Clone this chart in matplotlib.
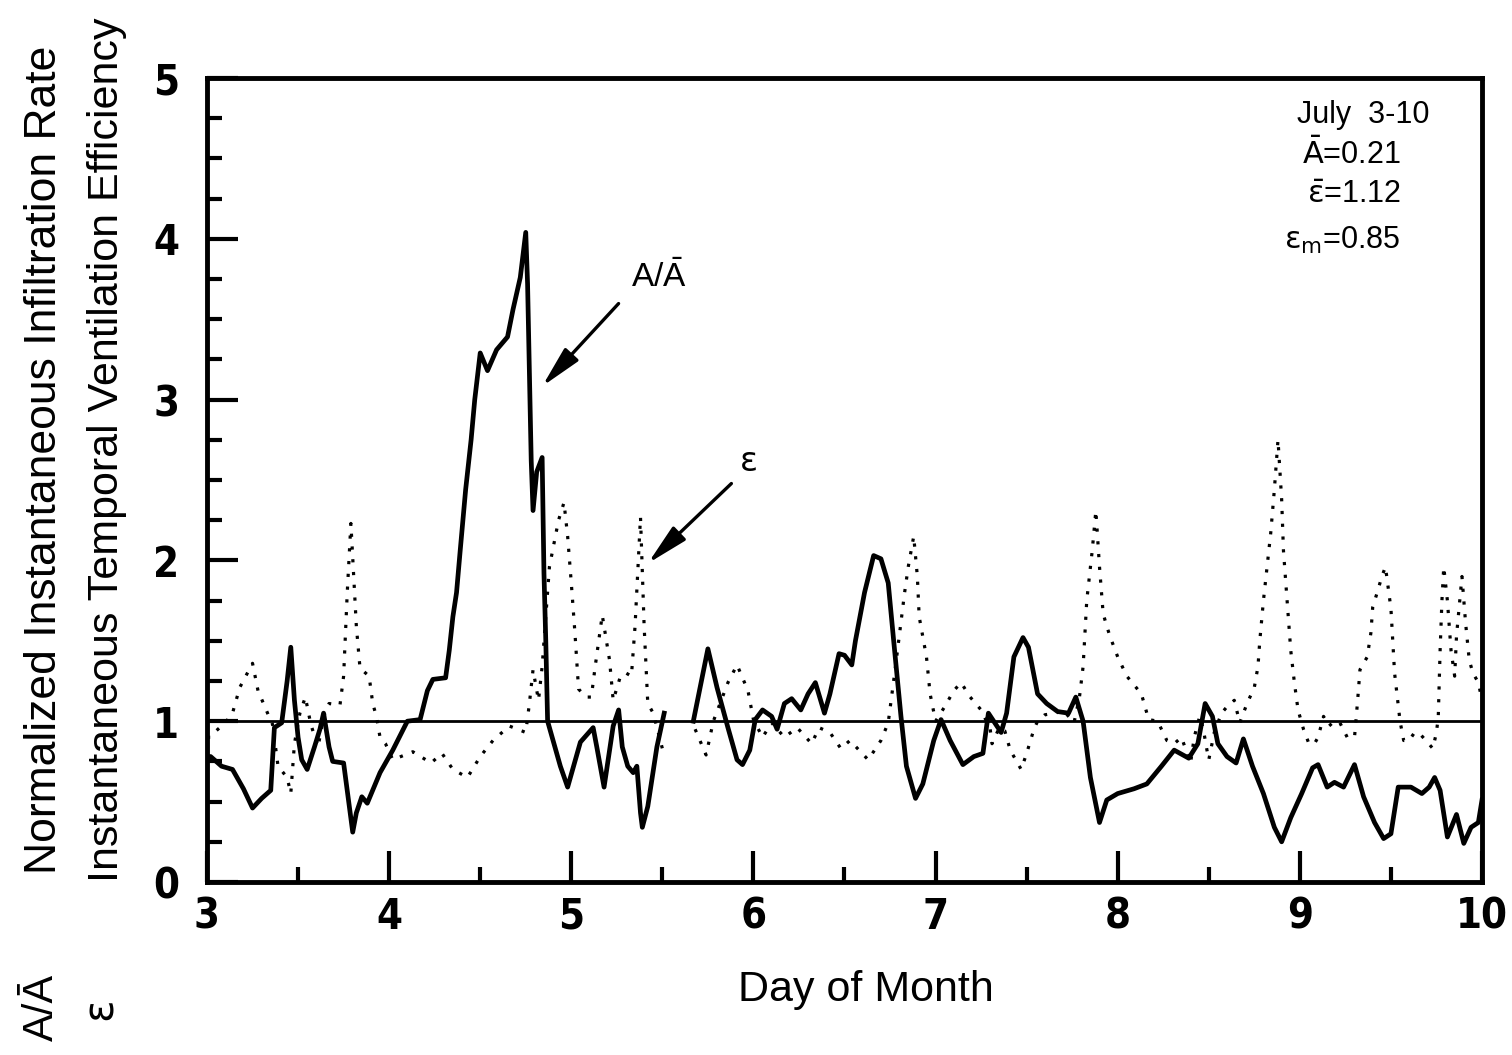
import numpy as np
import matplotlib
matplotlib.use("Agg")
import matplotlib.pyplot as plt

nan = np.nan

# A / A-bar (solid)
a_x = [3.00, 3.02, 3.08, 3.14, 3.20, 3.25, 3.30, 3.35, 3.37, 3.41, 3.44, 3.46, 3.48, 3.50, 3.52,
       3.55, 3.59, 3.62, 3.64, 3.67, 3.69, 3.75, 3.77, 3.80, 3.82, 3.85, 3.88, 3.95, 4.02, 4.10,
       4.17, 4.21, 4.24, 4.31, 4.33, 4.35, 4.37, 4.39, 4.42, 4.45, 4.47, 4.50, 4.54, 4.59, 4.65,
       4.68, 4.72, 4.75, 4.76, 4.77, 4.78, 4.79, 4.81, 4.84, 4.85, 4.86, 4.87, 4.94, 4.98, 5.05,
       5.12, 5.14, 5.18, 5.23, 5.26, 5.28, 5.31, 5.34, 5.36, 5.38, 5.39, 5.42, 5.47, 5.51, 5.59,
       5.67, 5.75, 5.80, 5.86, 5.91, 5.94, 5.98, 6.01, 6.05, 6.10, 6.13, 6.17, 6.21, 6.26, 6.30,
       6.34, 6.39, 6.42, 6.47, 6.50, 6.54, 6.56, 6.61, 6.66, 6.70, 6.74, 6.77, 6.81, 6.84, 6.89,
       6.93, 6.99, 7.03, 7.08, 7.15, 7.21, 7.26, 7.29, 7.36, 7.39, 7.43, 7.48, 7.51, 7.56, 7.61,
       7.67, 7.73, 7.77, 7.81, 7.85, 7.90, 7.94, 8.00, 8.09, 8.16, 8.24, 8.31, 8.39, 8.44, 8.48,
       8.52, 8.55, 8.60, 8.65, 8.69, 8.74, 8.80, 8.86, 8.90, 8.95, 9.01, 9.07, 9.10, 9.15, 9.19,
       9.24, 9.30, 9.35, 9.41, 9.46, 9.50, 9.54, 9.61, 9.67, 9.71, 9.74, 9.77, 9.81, 9.86, 9.90,
       9.94, 9.98, 10.00]
a_y = [0.78, 0.78, 0.72, 0.70, 0.58, 0.46, 0.52, 0.57, 0.96, 0.99, 1.25, 1.46, 1.13, 0.90, 0.76,
       0.70, 0.84, 0.95, 1.05, 0.84, 0.75, 0.74, 0.57, 0.31, 0.43, 0.53, 0.49, 0.68, 0.82, 1.00,
       1.01, 1.19, 1.26, 1.27, 1.44, 1.65, 1.80, 2.06, 2.44, 2.75, 3.00, 3.29, 3.18, 3.31, 3.39,
       3.56, 3.76, 4.04, 3.72, 3.17, 2.62, 2.31, 2.55, 2.64, 1.92, 1.50, 1.00, 0.72, 0.59, 0.87,
       0.96, 0.84, 0.59, 0.97, 1.07, 0.84, 0.72, 0.68, 0.72, 0.43, 0.34, 0.47, 0.84, 1.05, nan,
       1.00, 1.45, 1.21, 0.96, 0.76, 0.73, 0.82, 1.01, 1.07, 1.03, 0.95, 1.11, 1.14, 1.07, 1.17,
       1.24, 1.05, 1.17, 1.42, 1.41, 1.35, 1.50, 1.80, 2.03, 2.01, 1.86, 1.50, 1.03, 0.72, 0.52,
       0.61, 0.88, 1.01, 0.88, 0.73, 0.78, 0.80, 1.05, 0.93, 1.05, 1.40, 1.52, 1.46, 1.17, 1.11,
       1.06, 1.05, 1.15, 1.00, 0.65, 0.37, 0.51, 0.55, 0.58, 0.61, 0.72, 0.82, 0.77, 0.86, 1.11,
       1.03, 0.86, 0.78, 0.74, 0.89, 0.72, 0.55, 0.34, 0.25, 0.40, 0.55, 0.71, 0.73, 0.59, 0.62,
       0.59, 0.73, 0.53, 0.37, 0.27, 0.30, 0.59, 0.59, 0.55, 0.59, 0.65, 0.57, 0.28, 0.42, 0.24,
       0.34, 0.37, 0.51]

# epsilon (dotted)
e_x = [3.00, 3.02, 3.05, 3.10, 3.14, 3.18, 3.25, 3.28, 3.31, 3.34, 3.36, 3.39, 3.44, 3.46, 3.48,
       3.51, 3.54, 3.57, 3.61, 3.64, 3.67, 3.73, 3.75, 3.77, 3.79, 3.82, 3.84, 3.89, 3.91, 3.93,
       3.95, 3.98, 4.02, 4.13, 4.23, 4.29, 4.35, 4.43, 4.50, 4.57, 4.66, 4.75, 4.77, 4.79, 4.82,
       4.84, 4.88, 4.93, 4.96, 4.98, 5.00, 5.02, 5.04, 5.08, 5.11, 5.13, 5.17, 5.21, 5.23, 5.27,
       5.30, 5.33, 5.35, 5.38, 5.40, 5.42, 5.45, 5.50, 5.59, 5.68, 5.74, 5.78, 5.86, 5.91, 5.97,
       6.00, 6.05, 6.10, 6.17, 6.24, 6.32, 6.36, 6.42, 6.48, 6.53, 6.63, 6.70, 6.74, 6.78, 6.83,
       6.85, 6.88, 6.90, 6.91, 6.95, 6.97, 7.00, 7.05, 7.10, 7.14, 7.19, 7.25, 7.30, 7.31, 7.35,
       7.38, 7.41, 7.47, 7.50, 7.54, 7.56, 7.60, 7.66, 7.70, 7.76, 7.79, 7.81, 7.83, 7.86, 7.88,
       7.90, 7.92, 7.94, 7.96, 8.00, 8.05, 8.13, 8.17, 8.22, 8.24, 8.27, 8.31, 8.35, 8.40, 8.42,
       8.45, 8.47, 8.49, 8.50, 8.53, 8.57, 8.60, 8.64, 8.67, 8.71, 8.75, 8.77, 8.78, 8.80, 8.82,
       8.84, 8.86, 8.88, 8.90, 8.91, 8.93, 8.95, 8.97, 8.99, 9.02, 9.05, 9.08, 9.10, 9.13, 9.16,
       9.19, 9.22, 9.26, 9.30, 9.31, 9.32, 9.33, 9.37, 9.39, 9.40, 9.43, 9.45, 9.47, 9.50, 9.52,
       9.55, 9.57, 9.60, 9.63, 9.66, 9.70, 9.73, 9.75, 9.76, 9.77, 9.78, 9.79, 9.81, 9.83, 9.85,
       9.86, 9.89, 9.91, 9.93, 9.95, 9.98, 10.00]
e_y = [0.90, 0.90, 0.94, 0.99, 1.05, 1.21, 1.36, 1.19, 1.11, 1.03, 0.98, 0.72, 0.65, 0.55, 0.86,
       1.05, 1.15, 0.98, 0.84, 1.03, 1.11, 1.10, 1.28, 1.80, 2.23, 1.59, 1.33, 1.28, 1.11, 1.03,
       0.90, 0.86, 0.76, 0.81, 0.74, 0.80, 0.70, 0.65, 0.78, 0.88, 0.97, 0.93, 1.11, 1.32, 1.13,
       1.34, 1.96, 2.25, 2.36, 2.15, 1.86, 1.55, 1.20, 1.15, 1.15, 1.33, 1.66, 1.38, 1.13, 1.28,
       1.30, 1.28, 1.59, 2.27, 1.59, 1.11, 1.05, 0.83, nan, 0.95, 0.79, 1.00, 1.24, 1.35, 1.19,
       1.01, 0.90, 0.99, 0.90, 0.96, 0.86, 0.96, 0.93, 0.83, 0.88, 0.76, 0.88, 0.99, 1.34, 1.80,
       1.96, 2.15, 1.90, 1.65, 1.40, 1.17, 1.00, 1.09, 1.19, 1.24, 1.15, 1.07, 0.95, 0.86, 0.96,
       0.94, 0.82, 0.70, 0.80, 0.95, 1.00, 1.04, 1.05, 1.07, 0.99, 1.15, 1.34, 1.75, 2.06, 2.31,
       1.96, 1.67, 1.59, 1.52, 1.40, 1.28, 1.17, 1.01, 1.00, 0.95, 0.88, 0.86, 0.90, 0.74, 0.90,
       1.03, 0.95, 0.82, 0.76, 0.93, 1.05, 1.09, 1.13, 0.99, 1.11, 1.21, 1.34, 1.50, 1.75, 1.96,
       2.17, 2.44, 2.75, 2.38, 2.06, 1.75, 1.44, 1.24, 1.07, 0.95, 0.86, 0.86, 0.90, 1.03, 0.97,
       1.00, 0.99, 0.90, 0.90, 1.03, 1.17, 1.32, 1.40, 1.55, 1.71, 1.82, 1.90, 1.96, 1.70, 1.30,
       1.00, 0.88, 0.88, 0.93, 0.92, 0.87, 0.83, 0.93, 1.03, 1.44, 1.75, 1.96, 1.75, 1.44, 1.28,
       1.53, 1.90, 1.61, 1.38, 1.30, 1.24, 1.13]

x_ticks = [3, 4, 5, 6, 7, 8, 9, 10]
y_ticks = [0, 1, 2, 3, 4, 5]
x_ticklabels = ["3", "4", "5", "6", "7", "8", "9", "10"]
y_ticklabels = ["0", "1", "2", "3", "4", "5"]
ref_level = 1.0

plt.rcParams['font.family'] = ['Liberation Sans', 'DejaVu Sans']
plt.rcParams['mathtext.fontset'] = 'dejavusans'

fig = plt.figure(figsize=(15.12, 10.55), dpi=100)
ax = fig.add_axes([207/1512, 1 - 882/1055, (1482-207)/1512, (882-78)/1055])

ax.plot(a_x, a_y, color='black', lw=3.4, solid_joinstyle='round')
ax.plot(e_x, e_y, color='black', lw=2.3, linestyle=(0, (1, 3.0)))
ax.axhline(ref_level, color='black', lw=2.0)

ax.set_xlim(3, 10)
ax.set_ylim(0, 5)
for s in ax.spines.values():
    s.set_linewidth(3.5)

tickfont = dict(family=['DejaVu Sans'], stretch='condensed', weight='bold', size=30)
ax.set_xticks(x_ticks)
ax.set_xticklabels(x_ticklabels, fontdict=tickfont)
ax.set_yticks(y_ticks)
ax.set_yticklabels(y_ticklabels, fontdict=tickfont)
ax.set_xticks(np.arange(3, 10.01, 0.5), minor=True)
ax.set_yticks(np.arange(0, 5.01, 0.25), minor=True)
ax.tick_params(which='major', direction='in', length=22, width=3)
ax.tick_params(which='minor', direction='in', length=11, width=3)
ax.tick_params(axis='x', which='major', pad=10)
ax.tick_params(axis='y', which='major', pad=20)

ax.set_xlabel("Day of Month", fontsize=31)
ax.xaxis.set_label_coords((866 - 207) / 1275, -(990 - 882) / 804)
ax.xaxis.label.set_va('center')

EPS = r"\mathrm{\epsilon}"

fig.text(45/1512, 1 - 460/1055, "Normalized Instantaneous Infiltration Rate",
         rotation=90, ha='center', va='center', fontsize=32)
fig.text(107/1512, 1 - 450/1055, "Instantaneous Temporal Ventilation Efficiency",
         rotation=90, ha='center', va='center', fontsize=31)
fig.text(42/1512, 1 - 1007/1055, "A/Ā", rotation=90, ha='center', va='center', fontsize=30)
fig.text(103/1512, 1 - 1012/1055, "$" + EPS + "$", rotation=90, ha='center', va='center', fontsize=30)

arrow_style = dict(arrowstyle='-|>,head_length=0.9,head_width=0.2',
                   color='black', lw=2.4, mutation_scale=28)
ax.annotate("", xy=(4.83, 3.07), xytext=(5.27, 3.61), arrowprops=arrow_style)
ax.text(5.48, 3.76, r"A/$\mathregular{\bar{A}}$", fontsize=24, ha='center', va='center')
ax.annotate("", xy=(5.41, 1.97), xytext=(5.89, 2.49), arrowprops=arrow_style)
ax.text(5.97, 2.61, "$" + EPS + "$", fontsize=24, ha='center', va='center')

ax.text(9.35, 4.77, "July  3-10", fontsize=22, ha='center', va='center')
ax.text(9.28, 4.52, r"$\bar{\mathrm{A}}$=0.21", fontsize=22, ha='center', va='center')
ax.text(9.30, 4.27, r"$\bar{" + EPS + "}$=1.12", fontsize=22, ha='center', va='center')
ax.text(9.23, 3.99, "$" + EPS + r"_{\mathrm{m}}$=0.85", fontsize=22, ha='center', va='center')

fig.savefig("out.png", dpi=100)
